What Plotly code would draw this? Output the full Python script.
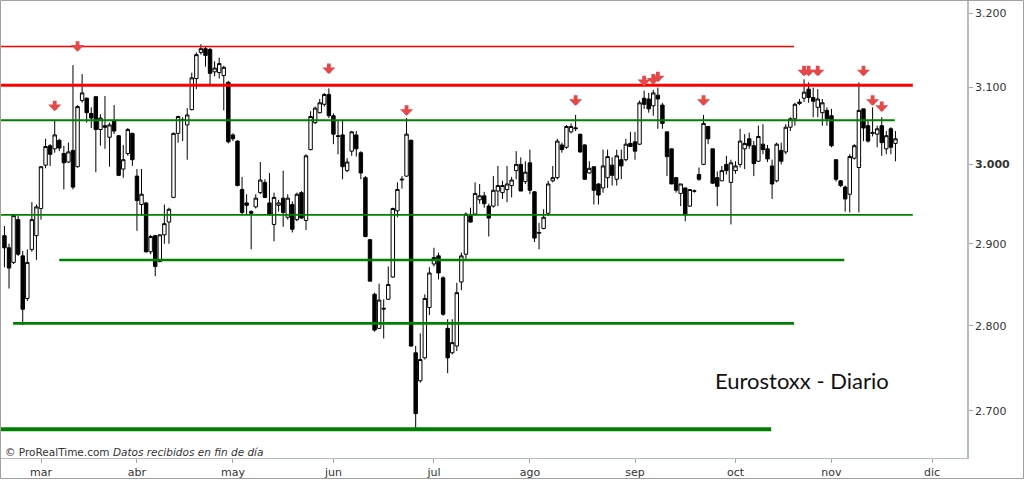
import math
import pandas as pd
import plotly.graph_objects as go

# ---------------- data (Euro Stoxx 50, daily, 18-feb-2016 .. 21-nov-2016) ----------------
start_date = "2016-02-18"
holidays = ["2016-03-25", "2016-03-28"]

opens = [2910, 2895, 2877, 2930, 2885, 2833, 2893, 2910,
         2944, 2999, 3024, 3020, 3031, 3014, 3003, 3018, 2997, 3083, 3086, 3066, 3088, 3045, 3050, 3035, 3057, 3037, 2994, 3014, 3040,
         2985, 2949, 2951, 2890, 2910, 2878, 2911, 2927, 2958, 3040, 3057, 3051, 3071, 3112, 3147, 3152, 3151, 3121, 3120, 3116, 3107,
         3038, 3030, 2968, 2951, 2940, 2946, 2964, 2977, 2951, 2924, 2948, 2957, 2933, 2949, 2930, 2964, 2929, 3019, 3054, 3067, 3078, 3091,
         3063, 3037, 3038, 2992, 3017, 3038, 3015, 2983, 2905, 2838, 2797, 2820, 2832, 2859, 2941, 2980, 2985, 3031, 2768, 2735, 2762, 2822,
         2875, 2885, 2858, 2797, 2768, 2776, 2853, 2887, 2935, 2937, 2955, 2960, 2947, 2947, 2966, 2964, 2968, 2973, 2992, 3000, 2978,
         3002, 2965, 2913, 2919, 2938, 2979, 2983, 3025, 3022, 3042, 3046, 3039, 3025, 2989, 2997, 2975, 2970, 2983, 2999, 2981, 3006, 3006, 3027,
         3029, 3026, 3086, 3085, 3076, 3090, 3077, 3042, 3020, 2983, 2963, 2970, 2947, 2966, 2987, 3000, 3049, 3020, 2983, 2979, 3000, 2977,
         2992, 3000, 3020, 3033, 3024, 3004, 3026, 3020, 2998, 2979, 3018, 3016, 3048, 3059, 3079, 3086, 3098, 3087, 3074, 3067, 3070,
         3063, 3006, 2979, 2971, 2962, 3008, 2996, 3072, 3050, 3040, 3039, 3050, 3020, 3046, 3027]
highs = [2922, 2900, 2937, 2935, 2891, 2893, 2952, 2949,
         2998, 3033, 3026, 3057, 3033, 3024, 3028, 3130, 3077, 3118, 3087, 3074, 3089, 3065, 3089, 3054, 3077, 3038, 3025, 3047, 3041,
         2994, 2994, 2952, 2911, 2911, 2912, 2949, 2945, 3041, 3063, 3061, 3073, 3120, 3147, 3158, 3155, 3153, 3135, 3140, 3129, 3109,
         3040, 3031, 2984, 2962, 2942, 2962, 3003, 2981, 2989, 2964, 2955, 2992, 2962, 2953, 2964, 2966, 3013, 3069, 3075, 3085, 3093, 3099,
         3066, 3057, 3057, 3008, 3043, 3043, 3017, 2985, 2906, 2840, 2851, 2832, 2872, 2945, 2977, 2985, 3060, 3032, 2776, 2791, 2838, 2871,
         2895, 2889, 2860, 2808, 2808, 2852, 2889, 2939, 2945, 2977, 2975, 2965, 2950, 2985, 2998, 2979, 2998, 2984, 3017, 3009, 3004,
         3019, 2966, 2926, 2943, 2979, 2998, 3033, 3028, 3051, 3053, 3064, 3039, 3026, 3004, 2997, 2976, 3019, 3019, 3009, 3019, 3019, 3033, 3042,
         3042, 3083, 3096, 3093, 3097, 3100, 3080, 3042, 3020, 2984, 2975, 2970, 2968, 2968, 2996, 3064, 3049, 3020, 2991, 2998, 3011, 3006,
         3004, 3046, 3039, 3041, 3030, 3050, 3052, 3025, 3006, 3028, 3028, 3052, 3061, 3080, 3085, 3111, 3107, 3100, 3098, 3085, 3074,
         3072, 3006, 2980, 2973, 3013, 3026, 3107, 3072, 3056, 3074, 3050, 3061, 3043, 3048, 3043]
lows = [2871, 2845, 2875, 2885, 2801, 2830, 2890, 2880,
        2930, 2995, 2998, 3015, 3017, 2968, 3002, 2968, 2996, 3080, 3054, 3047, 2990, 3024, 3020, 2997, 3039, 2985, 2983, 3011, 2998,
        2916, 2935, 2889, 2887, 2860, 2877, 2900, 2900, 2957, 3028, 3030, 3006, 3070, 3098, 3144, 3128, 3104, 3115, 3112, 3070, 3027,
        3030, 2972, 2937, 2937, 2893, 2944, 2962, 2957, 2935, 2903, 2940, 2921, 2930, 2914, 2928, 2931, 2917, 3018, 3052, 3066, 3075, 3060,
        3026, 3013, 2981, 2990, 3011, 3010, 2981, 2908, 2854, 2793, 2796, 2785, 2831, 2858, 2933, 2969, 2984, 2775, 2680, 2733, 2760, 2813,
        2872, 2856, 2812, 2744, 2766, 2770, 2843, 2880, 2926, 2935, 2950, 2945, 2909, 2945, 2947, 2956, 2952, 2958, 2981, 2966, 2975,
        2962, 2902, 2893, 2918, 2935, 2977, 2981, 3015, 3020, 3040, 3043, 3015, 2980, 2988, 2949, 2949, 2964, 2970, 2973, 2973, 2981, 3004, 3024,
        3006, 3025, 3072, 3067, 3063, 3046, 3046, 2985, 2975, 2964, 2947, 2928, 2946, 2964, 2979, 2999, 3026, 2975, 2947, 2979, 2987, 2924,
        2988, 2996, 2994, 3020, 2985, 3003, 3013, 3003, 2956, 2977, 3000, 3013, 3043, 3050, 3077, 3081, 3080, 3061, 3061, 3050, 3050,
        3022, 2978, 2971, 2940, 2939, 3006, 2939, 3030, 3028, 3036, 3022, 3011, 3013, 3013, 3004]
closes = [2895, 2870, 2935, 2887, 2820, 2877, 2930, 2946,
          2997, 3023, 3013, 3038, 3021, 3002, 3016, 2971, 3075, 3093, 3067, 3060, 3045, 3060, 3048, 3051, 3043, 2986, 3006, 3045, 3006,
          2954, 2962, 2890, 2909, 2872, 2911, 2925, 2943, 3040, 3062, 3058, 3064, 3113, 3144, 3152, 3143, 3119, 3126, 3132, 3127, 3029,
          3033, 2973, 2939, 2948, 2938, 2957, 2980, 2958, 2937, 2958, 2951, 2939, 2957, 2918, 2962, 2932, 3011, 3062, 3073, 3080, 3091, 3063,
          3039, 3036, 2997, 3003, 3042, 3020, 2989, 2909, 2854, 2795, 2831, 2821, 2850, 2944, 2968, 2981, 3039, 2776, 2697, 2760, 2833, 2864,
          2883, 2864, 2814, 2762, 2780, 2840, 2885, 2937, 2927, 2963, 2960, 2950, 2932, 2967, 2973, 2973, 2975, 2980, 3000, 2966, 2990,
          2967, 2907, 2914, 2933, 2975, 2983, 3030, 3019, 3049, 3049, 3047, 3016, 2981, 2995, 2967, 2961, 2998, 3010, 2986, 3011, 2998, 3026, 3023,
          3017, 3080, 3078, 3072, 3093, 3085, 3053, 3010, 2975, 2967, 2975, 2936, 2968, 2966, 2981, 3053, 3033, 2976, 2972, 2992, 2992, 3002,
          2998, 3030, 3027, 3024, 3001, 3036, 3019, 3007, 2975, 3026, 3004, 3048, 3059, 3078, 3081, 3094, 3087, 3082, 3085, 3080, 3059,
          3024, 2981, 2973, 2956, 3010, 3024, 3070, 3047, 3030, 3041, 3046, 3028, 3037, 3022, 3033]

# support / resistance levels drawn on the chart (price, start index, end index on the trading-day axis)
level_prices = [3155, 3103, 3057, 2936, 2880, 2803, 2679]
level_x0 = [-2, -2, -2, -2, 12.0, 1.9, -2]
level_x1 = [172.8, 198.8, 194.85, 198.8, 183.8, 172.8, 167.8]

# red arrows marking touches of resistance (date, arrow tip price)
arrow_dates = ["2016-03-04", "2016-03-11", "2016-05-31", "2016-06-23", "2016-08-15",
               "2016-09-05", "2016-09-07", "2016-09-08", "2016-09-22",
               "2016-10-24", "2016-10-25", "2016-10-27", "2016-11-10", "2016-11-14", "2016-11-16"]
arrow_prices = [3069, 3148, 3118, 3063, 3076, 3102, 3104, 3107, 3076,
                3115, 3115, 3115, 3115, 3076, 3068]

month_labels = ["mar", "abr", "may", "jun", "jul", "ago", "sep", "oct", "nov", "dic"]
y_ticks = [2700, 2800, 2900, 3000, 3100, 3200]
y_tick_text = ["2.700", "2.800", "2.900", "<b>3.000</b>", "3.100", "3.200"]

# ---------------- trading calendar ----------------
cal = [d for d in pd.bdate_range(start_date, "2016-12-09") if d.strftime("%Y-%m-%d") not in holidays]
cal_str = [d.strftime("%Y-%m-%d") for d in cal]
n = len(opens)
x = list(range(n))

tickvals = []
for m in range(3, 13):
    for i, d in enumerate(cal):
        if d.month == m:
            tickvals.append(i)
            break

fig = go.Figure()

fig.add_trace(go.Candlestick(
    x=x, open=opens, high=highs, low=lows, close=closes,
    increasing=dict(line=dict(color="#000000", width=1), fillcolor="#ffffff"),
    decreasing=dict(line=dict(color="#000000", width=1), fillcolor="#000000"),
    whiskerwidth=0, hoverinfo="skip", showlegend=False,
))

level_colors = ["#ff0000", "#ff0000", "#008000", "#008000", "#008000", "#008000", "#008000"]
level_widths = [1.7, 3, 2, 1.7, 2.6, 2.6, 4.2]
for p, a, b, c, w in zip(level_prices, level_x0, level_x1, level_colors, level_widths):
    fig.add_trace(go.Scatter(x=[a, b], y=[p, p], mode="lines",
                             line=dict(color=c, width=w), hoverinfo="skip", showlegend=False))

for d, p in zip(arrow_dates, arrow_prices):
    fig.add_annotation(x=cal_str.index(d), y=math.log10(p), xref="x", yref="y",
                       text="", showarrow=True, ax=0, ay=-12, axref="pixel", ayref="pixel",
                       arrowhead=1, arrowsize=0.58, arrowwidth=3.8, arrowcolor="#e54848", standoff=0)

W, H = 1024, 480
ml, mr, mt, mb = 1, 57, 1, 22
pw, ph = W - ml - mr, H - mt - mb

fig.add_annotation(xref="paper", yref="paper", x=(713 - ml) / pw, y=(H - mb - 380) / ph,
                   xanchor="left", yanchor="middle", showarrow=False,
                   text="Eurostoxx - Diario", font=dict(family="Lato", size=22, color="#111111"))
fig.add_annotation(xref="paper", yref="paper", x=(3 - ml) / pw, y=(H - mb - 452) / ph,
                   xanchor="left", yanchor="middle", showarrow=False,
                   text="© ProRealTime.com <i>Datos recibidos en fin de día</i>",
                   font=dict(family="DejaVu Sans", size=10.5, color="#333333"))

# outer frame
fig.add_shape(type="rect", xref="paper", yref="paper",
              x0=(0.5 - ml) / pw, x1=(W - 0.5 - ml) / pw,
              y0=(H - mb - (H - 1.5)) / ph, y1=(H - mb - 0.5) / ph,
              line=dict(color="#a0a0a0", width=1), fillcolor="rgba(0,0,0,0)", layer="above")

px_per_day = (932 - 41) / 195.0
x_left = tickvals[0] - (41 - ml) / px_per_day
x_right = tickvals[0] + (967 - 41) / px_per_day

fig.update_layout(
    width=W, height=H,
    margin=dict(l=ml, r=mr, t=mt, b=mb),
    paper_bgcolor="#ffffff", plot_bgcolor="#ffffff",
    showlegend=False, boxgap=0.25, boxgroupgap=0,
    xaxis=dict(range=[x_left, x_right], showgrid=False, zeroline=False,
               showline=True, linecolor="#b4bcc4", linewidth=1,
               ticks="outside", ticklen=4, tickcolor="#a0a8b0",
               tickvals=tickvals, ticktext=month_labels,
               tickfont=dict(family="DejaVu Sans", size=11, color="#333333"),
               rangeslider=dict(visible=False), fixedrange=True),
    yaxis=dict(type="log", side="right",
               range=[math.log10(2646.3), math.log10(3216.9)],
               showgrid=False, zeroline=False, showline=True,
               linecolor="#b4bcc4", linewidth=1.5,
               ticks="outside", ticklen=4, tickcolor="#a0a8b0",
               tickvals=y_ticks, ticktext=y_tick_text,
               tickfont=dict(family="DejaVu Sans", size=11, color="#333333"),
               fixedrange=True),
)

fig.write_html("out.html")
